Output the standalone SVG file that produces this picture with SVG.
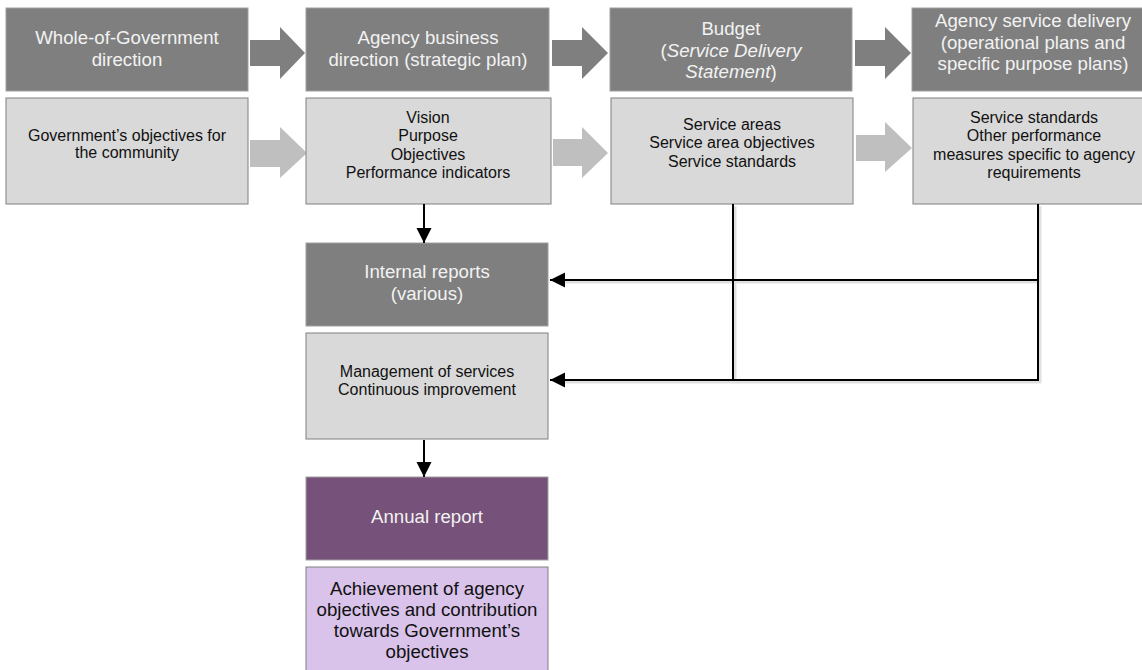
<svg xmlns="http://www.w3.org/2000/svg" width="1142" height="670" viewBox="0 0 1142 670">
<style>
text{font-family:"Liberation Sans",Arial,sans-serif;text-anchor:middle}
.dk{fill:#7f7f7f;stroke:#a0a0a0;stroke-width:1}
.lt{fill:#d9d9d9;stroke:#808080;stroke-width:1}
.pu{fill:#765179;stroke:#a0a0a0;stroke-width:1}
.lp{fill:#d9c3ea;stroke:#808080;stroke-width:1}
.tw{fill:#f2f2f2;font-size:18.67px}
.tb{fill:#111;font-size:16px}
.tb2{fill:#111;font-size:18.67px}
.ad{fill:#7f7f7f}
.al{fill:#bfbfbf}
.ln{fill:none;stroke:#000;stroke-width:2}
.sh{fill:none;stroke:#000;stroke-opacity:0.12;stroke-width:3}
</style>
<defs>
<marker id="ah" markerUnits="userSpaceOnUse" markerWidth="16" markerHeight="16" refX="15" refY="7.5" orient="auto">
<path d="M0,0 L15,7.5 L0,15 Z" fill="#000"/>
</marker>
</defs>
<g id="block-arrows">
<polygon class="ad" points="250,40 280,40 280,27 305,53 280,79 280,66 250,66"/>
<polygon class="ad" points="552,40 582,40 582,27 608,53 582,79 582,66 552,66"/>
<polygon class="ad" points="855,40 885,40 885,27 911,53 885,79 885,66 855,66"/>
<polygon class="al" points="250,140 280,140 280,127 307,153 280,178 280,167 250,167"/>
<polygon class="al" points="553,139 582,139 582,127 608,153 582,178 582,166 553,166"/>
<polygon class="al" points="856,135 885,135 885,122 912,148 885,172 885,161 856,161"/>
</g>
<g id="wog">
<rect class="dk" x="6" y="8" width="242" height="83"/>
<text class="tw" x="127" y="44">Whole-of-Government</text>
<text class="tw" x="127" y="66">direction</text>
</g>
<g id="agency-business">
<rect class="dk" x="306" y="8" width="243" height="83"/>
<text class="tw" x="428" y="44">Agency business</text>
<text class="tw" x="428" y="66">direction (strategic plan)</text>
</g>
<g id="budget">
<rect class="dk" x="610" y="8" width="242" height="83"/>
<text class="tw" x="731" y="35">Budget</text>
<text class="tw" x="731" y="57">(<tspan font-style="italic">Service Delivery</tspan></text>
<text class="tw" x="731" y="78"><tspan font-style="italic">Statement</tspan>)</text>
</g>
<g id="service-delivery">
<rect class="dk" x="912" y="8" width="242" height="83"/>
<text class="tw" x="1033" y="27">Agency service delivery</text>
<text class="tw" x="1033" y="48.5">(operational plans and</text>
<text class="tw" x="1033" y="70">specific purpose plans)</text>
</g>
<g id="gov-objectives">
<rect class="lt" x="6" y="98" width="242" height="106"/>
<text class="tb" x="127" y="141">Government’s objectives for</text>
<text class="tb" x="127" y="158">the community</text>
</g>
<g id="vision">
<rect class="lt" x="306" y="98" width="245" height="106"/>
<text class="tb" x="428" y="123">Vision</text>
<text class="tb" x="428" y="141">Purpose</text>
<text class="tb" x="428" y="160">Objectives</text>
<text class="tb" x="428" y="178">Performance indicators</text>
</g>
<g id="service-areas">
<rect class="lt" x="611" y="98" width="242" height="106"/>
<text class="tb" x="732" y="130">Service areas</text>
<text class="tb" x="732" y="148">Service area objectives</text>
<text class="tb" x="732" y="167">Service standards</text>
</g>
<g id="service-standards">
<rect class="lt" x="913" y="98" width="242" height="106"/>
<text class="tb" x="1034" y="123">Service standards</text>
<text class="tb" x="1034" y="141">Other performance</text>
<text class="tb" x="1034" y="160">measures specific to agency</text>
<text class="tb" x="1034" y="178">requirements</text>
</g>
<g id="internal-reports">
<rect class="dk" x="306" y="243" width="242" height="83"/>
<text class="tw" x="427" y="278">Internal reports</text>
<text class="tw" x="427" y="300">(various)</text>
</g>
<g id="management">
<rect class="lt" x="306" y="333" width="242" height="106"/>
<text class="tb" x="427" y="377">Management of services</text>
<text class="tb" x="427" y="395">Continuous improvement</text>
</g>
<g id="annual-report">
<rect class="pu" x="306" y="477" width="242" height="83"/>
<text class="tw" x="427" y="523">Annual report</text>
</g>
<g id="achievement">
<rect class="lp" x="306" y="567" width="242" height="110"/>
<text class="tb2" x="427" y="595">Achievement of agency</text>
<text class="tb2" x="427" y="616">objectives and contribution</text>
<text class="tb2" x="427" y="637">towards Government’s</text>
<text class="tb2" x="427" y="658">objectives</text>
</g>
<g id="connectors">
<path class="sh" d="M735 206 V382 M1040 206 V382 H735 M1040 282 H562 M735 382 H562"/>
<path class="ln" d="M424 204 V243" marker-end="url(#ah)"/>
<path class="ln" d="M424 440 V477" marker-end="url(#ah)"/>
<path class="ln" d="M733 204 V380"/>
<path class="ln" d="M1038 204 V280 H550" marker-end="url(#ah)"/>
<path class="ln" d="M1038 280 V380 H550" marker-end="url(#ah)"/>
</g>
</svg>
